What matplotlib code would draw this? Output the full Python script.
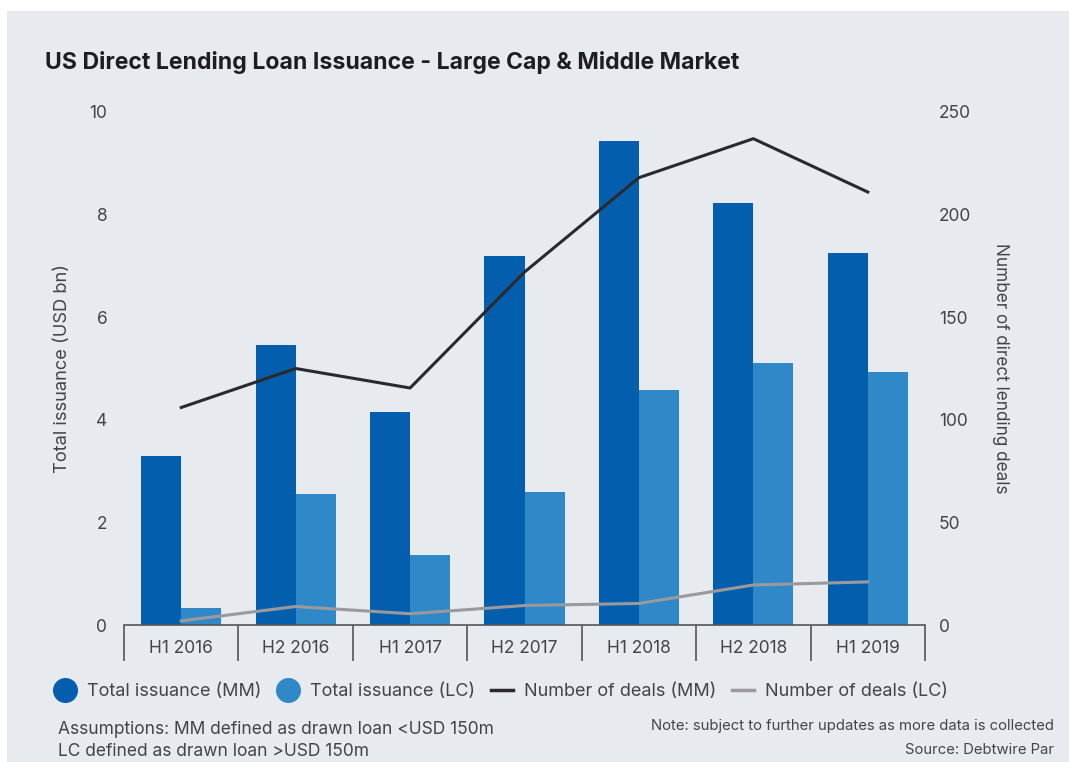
import matplotlib
matplotlib.use("Agg")
import matplotlib.pyplot as plt
from matplotlib.lines import Line2D
from matplotlib.patches import Rectangle
import numpy as np

plt.rcParams["font.family"] = ["Inter", "DejaVu Sans"]

# Half-year periods and values
periods = ["H1 2016", "H2 2016", "H1 2017", "H2 2017", "H1 2018", "H2 2018", "H1 2019"]
issuance_mm = [3.3, 5.46, 4.15, 7.2, 9.43, 8.23, 7.25]
issuance_lc = [0.34, 2.55, 1.36, 2.6, 4.58, 5.1, 4.93]
deals_mm = [106, 125, 115.5, 172, 218, 237, 211]
deals_lc = [2, 9, 5.5, 9.5, 10.5, 19.5, 21]

C_BG = "#e7eaef"
C_MM = "#035fad"
C_LC = "#2f88c8"
C_LINE_MM = "#2a2a2e"
C_LINE_LC = "#9a9a9c"
C_TEXT = "#444448"

fig = plt.figure(figsize=(10.69, 7.62), dpi=100)
fig.patch.set_facecolor("white")
fig.patches.append(Rectangle((7 / 1069, 0), 1, 1 - 11 / 762, transform=fig.transFigure,
                             facecolor=C_BG, edgecolor="none", zorder=-10))

ax = fig.add_axes([124 / 1069, 1 - 625 / 762, 801 / 1069, 513 / 762])
ax.set_facecolor("none")
ax2 = ax.twinx()

x = np.arange(len(periods))
w = 0.35
ax.bar(x - w / 2, issuance_mm, width=w, color=C_MM, zorder=2)
ax.bar(x + w / 2, issuance_lc, width=w, color=C_LC, zorder=2)

ax2.plot(x, deals_mm, color=C_LINE_MM, linewidth=2.2, zorder=3)
ax2.plot(x, deals_lc, color=C_LINE_LC, linewidth=2.2, zorder=3)

ax.set_xlim(-0.5, len(periods) - 0.5)
ax.set_ylim(0, 10)
ax2.set_ylim(0, 250)
ax.set_yticks([0, 2, 4, 6, 8, 10])
ax.set_yticklabels(["0", "2", "4", "6", "8", "10"])
ax2.set_yticks([0, 50, 100, 150, 200, 250])

# category labels between separator ticks
ax.set_xticks(x)
ax.set_xticklabels(periods)
ax.set_xticks(np.arange(-0.5, len(periods)), minor=True)
ax.tick_params(axis="x", which="major", length=0, pad=11, labelsize=12.5, colors=C_TEXT)
ax.tick_params(axis="x", which="minor", length=26, width=1.2, color="#555558", direction="out")
ax.tick_params(axis="y", length=0, pad=12, labelsize=12.5, colors=C_TEXT)
ax2.tick_params(axis="y", length=0, pad=10, labelsize=12.5, colors=C_TEXT)

for a in (ax, ax2):
    for side in ("top", "left", "right", "bottom"):
        a.spines[side].set_visible(False)
ax.spines["bottom"].set_visible(True)
ax.spines["bottom"].set_color("#555558")
ax.spines["bottom"].set_linewidth(1.2)

ax.set_ylabel("Total issuance (USD bn)", fontsize=13.2, color=C_TEXT, labelpad=13)
ax2.set_ylabel("Number of direct lending deals", fontsize=12.3, color=C_TEXT,
               rotation=270, labelpad=27)

fig.text(45 / 1069, 1 - 62 / 762, "US Direct Lending Loan Issuance - Large Cap & Middle Market",
         fontsize=16.6, fontweight="bold", color="#1e1e22", va="center", ha="left")

handles = [
    Line2D([], [], linestyle="none", marker="o", markersize=17, color=C_MM),
    Line2D([], [], linestyle="none", marker="o", markersize=17, color=C_LC),
    Line2D([], [], color=C_LINE_MM, linewidth=2.5),
    Line2D([], [], color=C_LINE_LC, linewidth=2.5),
]
labels = ["Total issuance (MM)", "Total issuance (LC)", "Number of deals (MM)", "Number of deals (LC)"]
fig.legend(handles, labels, loc="center left", bbox_to_anchor=(38 / 1069, 1 - 692 / 762),
           ncol=4, frameon=False, fontsize=13, handlelength=1.2, handletextpad=0.6,
           columnspacing=0.9, labelcolor=C_TEXT)

fig.text(58 / 1069, 1 - 729 / 762, "Assumptions: MM defined as drawn loan <USD 150m",
         fontsize=12.5, color=C_TEXT, va="center", ha="left")
fig.text(58 / 1069, 1 - 751 / 762, "LC defined as drawn loan >USD 150m",
         fontsize=12.5, color=C_TEXT, va="center", ha="left")
fig.text(1054 / 1069, 1 - 726 / 762, "Note: subject to further updates as more data is collected",
         fontsize=10.7, color=C_TEXT, va="center", ha="right")
fig.text(1054 / 1069, 1 - 750 / 762, "Source: Debtwire Par",
         fontsize=10.7, color=C_TEXT, va="center", ha="right")

fig.savefig("out.png", dpi=100, facecolor=fig.get_facecolor())
